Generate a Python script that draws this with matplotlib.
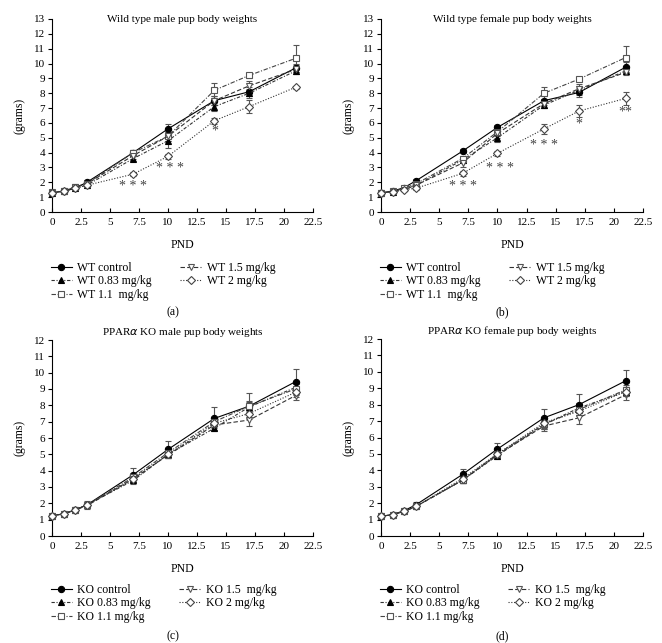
import matplotlib
matplotlib.use('Agg')
import matplotlib.pyplot as plt

plt.rcParams['font.family'] = ['Liberation Serif', 'DejaVu Serif']

# Giorni postnatali
pnd = [0, 1, 2, 3, 7, 10, 14, 17, 21]

# (a) WT maschi
wtm_ctrl = [1.3, 1.4, 1.6, 2.0, 4.0, 5.6, 7.5, 8.1, 9.7]
wtm_083 = [1.3, 1.4, 1.6, 1.8, 3.6, 4.8, 7.1, 8.0, 9.5]
wtm_11 = [1.35, 1.4, 1.7, 1.9, 4.0, 5.1, 8.2, 9.2, 10.35]
wtm_15 = [1.3, 1.4, 1.7, 1.9, 3.8, 5.1, 7.5, 8.5, 9.6]
wtm_2 = [1.3, 1.4, 1.6, 1.8, 2.55, 3.75, 6.15, 7.1, 8.4]
wtm_ctrl_err = [0.1, 0.1, 0.1, 0.15, 0.2, 0.35, 0.3, 0.3, 0.3]
wtm_083_err = [0.1, 0.1, 0.15, 0.15, 0.15, 0.5, 0.3, 0.3, 0.2]
wtm_11_err = [0.1, 0.1, 0.1, 0.15, 0.2, 0.3, 0.5, 0.15, 0.9]
wtm_15_err = [0.1, 0.1, 0.1, 0.1, 0.2, 0.3, 0.3, 0.3, 0.3]
wtm_2_err = [0.1, 0.1, 0.1, 0.1, 0.15, 0.15, 0.2, 0.45, 0.1]

# (b) WT femmine
wtf_ctrl = [1.3, 1.4, 1.65, 2.1, 4.1, 5.7, 7.5, 8.05, 9.75]
wtf_083 = [1.3, 1.35, 1.6, 1.8, 3.5, 5.0, 7.2, 8.2, 9.5]
wtf_11 = [1.3, 1.4, 1.6, 1.9, 3.6, 5.4, 8.0, 8.95, 10.4]
wtf_15 = [1.3, 1.35, 1.5, 1.8, 3.3, 5.3, 7.3, 8.3, 9.4]
wtf_2 = [1.3, 1.35, 1.5, 1.6, 2.6, 3.95, 5.6, 6.8, 7.65]
wtf_ctrl_err = [0.1, 0.1, 0.1, 0.1, 0.15, 0.15, 0.3, 0.3, 0.35]
wtf_083_err = [0.1, 0.1, 0.1, 0.15, 0.2, 0.3, 0.2, 0.3, 0.2]
wtf_11_err = [0.1, 0.1, 0.1, 0.1, 0.2, 0.3, 0.4, 0.15, 0.8]
wtf_15_err = [0.1, 0.1, 0.1, 0.1, 0.3, 0.3, 0.3, 0.3, 0.2]
wtf_2_err = [0.1, 0.1, 0.1, 0.1, 0.15, 0.15, 0.35, 0.4, 0.45]

# (c) KO maschi
kom_ctrl = [1.25, 1.35, 1.6, 1.9, 3.75, 5.3, 7.2, 7.95, 9.45]
kom_083 = [1.25, 1.35, 1.6, 1.9, 3.4, 5.0, 6.6, 7.9, 9.1]
kom_11 = [1.25, 1.35, 1.6, 1.9, 3.6, 5.1, 7.0, 7.95, 9.0]
kom_15 = [1.25, 1.35, 1.6, 1.85, 3.5, 4.95, 6.8, 7.1, 8.6]
kom_2 = [1.25, 1.35, 1.6, 1.9, 3.5, 5.0, 6.9, 7.5, 8.8]
kom_ctrl_err = [0.1, 0.1, 0.15, 0.25, 0.4, 0.5, 0.7, 0.8, 0.8]
kom_083_err = [0.1, 0.1, 0.1, 0.15, 0.2, 0.2, 0.2, 0.3, 0.3]
kom_11_err = [0.1, 0.1, 0.1, 0.15, 0.2, 0.2, 0.3, 0.3, 0.3]
kom_15_err = [0.1, 0.1, 0.1, 0.1, 0.2, 0.2, 0.3, 0.35, 0.3]
kom_2_err = [0.1, 0.1, 0.1, 0.1, 0.2, 0.2, 0.3, 0.3, 0.3]

# (d) KO femmine
kof_ctrl = [1.2, 1.3, 1.55, 1.9, 3.75, 5.3, 7.2, 8.0, 9.45]
kof_083 = [1.2, 1.3, 1.5, 1.8, 3.4, 4.9, 6.8, 7.8, 8.8]
kof_11 = [1.2, 1.3, 1.5, 1.8, 3.4, 5.0, 6.8, 7.7, 8.9]
kof_15 = [1.2, 1.3, 1.5, 1.8, 3.4, 4.95, 6.7, 7.2, 8.6]
kof_2 = [1.2, 1.3, 1.5, 1.8, 3.5, 5.0, 6.9, 7.6, 8.8]
kof_ctrl_err = [0.1, 0.1, 0.1, 0.15, 0.35, 0.35, 0.55, 0.65, 0.65]
kof_083_err = [0.1, 0.1, 0.1, 0.1, 0.15, 0.2, 0.3, 0.3, 0.3]
kof_11_err = [0.1, 0.1, 0.1, 0.1, 0.15, 0.2, 0.3, 0.3, 0.3]
kof_15_err = [0.1, 0.1, 0.1, 0.1, 0.15, 0.2, 0.3, 0.35, 0.3]
kof_2_err = [0.1, 0.1, 0.1, 0.1, 0.15, 0.2, 0.3, 0.3, 0.3]

dose_labels = ['control', '0.83 mg/kg', '1.1  mg/kg', '1.5 mg/kg', '2 mg/kg']
ko_dose_labels = ['control', '0.83 mg/kg', '1.1 mg/kg', '1.5  mg/kg', '2 mg/kg']

# Asterischi di significatività (x, y, testo)
stars_a = [(7, 1.7, '* * *'), (10.2, 2.9, '* * *'), (14, 5.45, '*')]
stars_b = [(7, 1.7, '* * *'), (10.2, 2.9, '* * *'), (14, 4.5, '* * *'),
           (17, 5.9, '*'), (21, 6.75, '**')]

# stili: (linestyle, marker, facecolor, edgecolor, line color)
styles = [
    ('-', 'o', 'black', 'black', 'black'),
    ((0, (3, 1.5, 1, 1.5)), '^', 'black', 'black', '#333333'),
    ((0, (4, 1.5, 1, 1.5)), 's', 'white', '#555555', '#444444'),
    ((0, (4, 2)), 'v', 'white', '#555555', '#333333'),
    ((0, (1, 1.5)), 'D', 'white', '#444444', '#333333'),
]


def draw_panel(ax, series, errors, labels, prefix, title, ymax, title_inside, stars):
    handles = []
    for vals, errs, lab, st in zip(series, errors, labels, styles):
        ls, mk, fc, ec, lc = st
        ms = 3.6 if mk == 'D' else 4.5
        ax.errorbar(pnd, vals, yerr=errs, fmt='none', ecolor='#555555',
                    elinewidth=0.8, capsize=2.5, capthick=0.8, clip_on=False, zorder=2)
        h, = ax.plot(pnd, vals, linestyle=ls, color=lc, linewidth=0.8,
                     marker=mk, markersize=ms, markerfacecolor=fc,
                     markeredgecolor=ec, markeredgewidth=0.8, clip_on=False, zorder=3,
                     label=prefix + ' ' + lab)
        handles.append(h)
    for sx, sy, s in stars:
        ax.text(sx, sy, s, ha='center', va='center', fontsize=10, color='#444444')
    ax.set_xlim(0, 22.5)
    ax.set_ylim(0, ymax)
    ax.set_xticks([0, 2.5, 5, 7.5, 10, 12.5, 15, 17.5, 20, 22.5])
    ax.set_xticklabels(['0', '2.5', '5', '7.5', '10', '12.5', '15', '17.5', '20', '22.5'])
    ax.set_yticks(range(0, ymax + 1))
    for side in ['top', 'right']:
        ax.spines[side].set_visible(False)
    for side in ['left', 'bottom']:
        ax.spines[side].set_linewidth(0.8)
    ax.tick_params(axis='y', direction='out', length=3, width=0.8, labelsize=8, pad=2)
    ax.tick_params(axis='x', direction='in', length=3, width=0.8, labelsize=8, pad=4)
    ax.set_xlabel('PND', fontsize=8.5, labelpad=9)
    ax.set_ylabel('(grams)', fontsize=8.5, labelpad=6)
    if title_inside:
        ax.text(0.5, 1.0, title, transform=ax.transAxes, ha='center', va='center', fontsize=8)
    else:
        ax.text(0.5, 1.04, title, transform=ax.transAxes, ha='center', va='center', fontsize=8)
    return handles


W, H = 662, 643
fig = plt.figure(figsize=(W / 100, H / 100), dpi=100)


def add_ax(left, right, top, bottom):
    return fig.add_axes([left / W, 1 - bottom / H, (right - left) / W, (bottom - top) / H])


panels = [
    (add_ax(52, 313, 19, 212), [wtm_ctrl, wtm_083, wtm_11, wtm_15, wtm_2],
     [wtm_ctrl_err, wtm_083_err, wtm_11_err, wtm_15_err, wtm_2_err],
     dose_labels, 'WT', 'Wild type male pup body weights', 13, True, stars_a, '(a)', 257, 312),
    (add_ax(381, 643, 19, 212), [wtf_ctrl, wtf_083, wtf_11, wtf_15, wtf_2],
     [wtf_ctrl_err, wtf_083_err, wtf_11_err, wtf_15_err, wtf_2_err],
     dose_labels, 'WT', 'Wild type female pup body weights', 13, True, stars_b, '(b)', 257, 312),
    (add_ax(52, 313, 340, 536), [kom_ctrl, kom_083, kom_11, kom_15, kom_2],
     [kom_ctrl_err, kom_083_err, kom_11_err, kom_15_err, kom_2_err],
     ko_dose_labels, 'KO', 'PPAR$\\alpha$ KO male pup body weights', 12, False, [], '(c)', 579, 636),
    (add_ax(381, 643, 339, 536), [kof_ctrl, kof_083, kof_11, kof_15, kof_2],
     [kof_ctrl_err, kof_083_err, kof_11_err, kof_15_err, kof_2_err],
     ko_dose_labels, 'KO', 'PPAR$\\alpha$ KO female pup body weights', 12, False, [], '(d)', 579, 636),
]

for ax, series, errors, labels, prefix, title, ymax, inside, stars, tag, leg_y, tag_y in panels:
    handles = draw_panel(ax, series, errors, labels, prefix, title, ymax, inside, stars)
    pos = ax.get_position()
    fig.legend(handles=handles, ncol=2, loc='upper left',
               bbox_to_anchor=(pos.x0 - 6 / W, 1 - leg_y / H), frameon=False,
               fontsize=8.5, handlelength=1.8, handletextpad=0.45, columnspacing=2.4,
               labelspacing=0.15, borderaxespad=0)
    fig.text(pos.x0 + pos.width / 2 - 10 / W, 1 - tag_y / H, tag, ha='center', va='center', fontsize=8.5)

fig.savefig('out.png', dpi=100)
